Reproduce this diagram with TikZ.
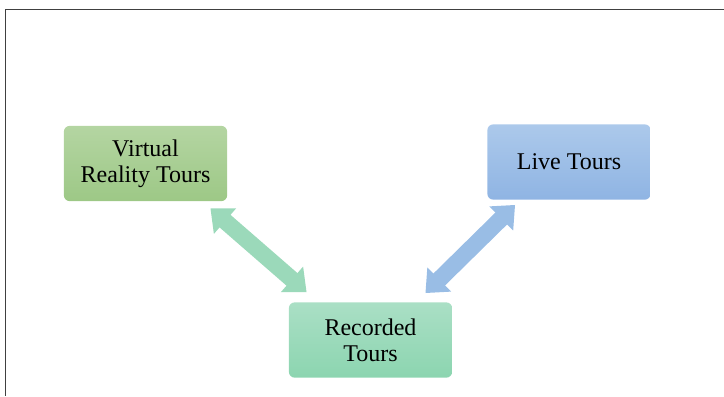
\documentclass[tikz,border=0pt]{standalone}
\usepackage{fontspec}
\setmainfont{Liberation Serif}
\usepackage{xcolor}
\usetikzlibrary{arrows.meta,calc}
\definecolor{vrtop}{RGB}{180,213,162}
\definecolor{vrbot}{RGB}{157,200,134}
\definecolor{livetop}{RGB}{172,201,235}
\definecolor{livebot}{RGB}{143,180,227}
\definecolor{rectop}{RGB}{170,223,197}
\definecolor{recbot}{RGB}{140,213,176}
\definecolor{greenlink}{RGB}{155,217,186}
\definecolor{bluelink}{RGB}{153,189,229}
\tikzset{
  tour/.style={rectangle, rounded corners=4.5pt, minimum width=122.5pt, minimum height=56.5pt, align=center, font=\fontsize{18}{19.5}\selectfont, inner sep=2pt},
  vrbox/.style={tour, top color=vrtop, bottom color=vrbot},
  livebox/.style={tour, top color=livetop, bottom color=livebot},
  recbox/.style={tour, top color=rectop, bottom color=recbot},
  link/.style={line width=12.5pt, {Triangle[length=14.5pt,width=24.5pt]}-{Triangle[length=14.5pt,width=24.5pt]}},
  frame/.style={draw=black!75, line width=1.1pt},
}
\begin{document}
\begin{tikzpicture}[x=0.75pt, y=-0.75pt]
  \useasboundingbox (0,0) rectangle (724,396);
  \draw[frame] (724,9.5) -| (5.5,396);
  \node[vrbox] (vr) at (145.5,163.5) {Virtual\\Reality Tours};
  \node[livebox] (live) at (569,162) {Live Tours};
  \node[recbox] (rec) at (370.5,340) {Recorded\\Tours};
  % arrow ends sit a little off the boxes
  \coordinate (vrend) at ($(vr.south east)+(-17,7)$);
  \coordinate (recleft) at ($(rec.north west)+(18,-10)$);
  \coordinate (liveend) at ($(live.south west)+(28,5)$);
  \coordinate (recright) at ($(rec.north east)+(-27,-9)$);
  \draw[link, greenlink] (vrend) -- (recleft);
  \draw[link, bluelink] (liveend) -- (recright);
\end{tikzpicture}
\end{document}
